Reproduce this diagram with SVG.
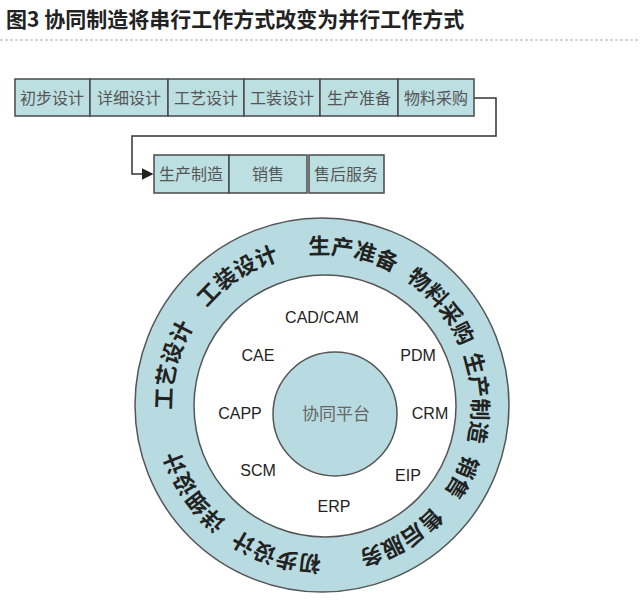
<svg xmlns="http://www.w3.org/2000/svg" width="640" height="601" viewBox="0 0 640 601">
<style>
.b{fill:#bcdfe2;stroke:#4a4a4a;stroke-width:1.5}
.bt{font-family:"Noto Sans CJK SC",sans-serif;font-size:16px;fill:#555;text-anchor:middle}
.r{font-family:"Noto Sans CJK SC",sans-serif;font-size:22px;fill:#222;font-weight:bold}
.i{font-family:"Liberation Sans",Arial,sans-serif;font-size:16px;fill:#222;text-anchor:middle}
</style>
<defs>
<marker id="a" markerWidth="8" markerHeight="8" refX="7" refY="4" orient="auto"><path d="M0,0L8,4L0,8z" fill="#222"/></marker>
<path id="ring" d="M173.85,428.47 A150,150 0 1 1 470.15,381.53 A150,150 0 1 1 173.85,428.47"/>
</defs>
<rect width="640" height="601" fill="#fff"/>
<text x="6" y="27" font-family="'Noto Sans CJK SC',sans-serif" font-size="21" font-weight="bold" fill="#222">图3  协同制造将串行工作方式改变为并行工作方式</text>
<line x1="0" y1="40" x2="640" y2="40" stroke="#aaa" stroke-dasharray="3,2"/>
<g id="connectors" fill="none" stroke="#333" stroke-width="1.5">
<path d="M474,98H496V136H132V174H152" marker-end="url(#a)"/>
</g>
<g id="n1"><rect class="b" x="15" y="79" width="75" height="37"/><text class="bt" x="52" y="104">初步设计</text></g>
<g id="n2"><rect class="b" x="90" y="79" width="78" height="37"/><text class="bt" x="129" y="104">详细设计</text></g>
<g id="n3"><rect class="b" x="168" y="79" width="76" height="37"/><text class="bt" x="206" y="104">工艺设计</text></g>
<g id="n4"><rect class="b" x="244" y="79" width="76" height="37"/><text class="bt" x="282" y="104">工装设计</text></g>
<g id="n5"><rect class="b" x="320" y="79" width="78" height="37"/><text class="bt" x="359" y="104">生产准备</text></g>
<g id="n6"><rect class="b" x="398" y="79" width="76" height="37"/><text class="bt" x="436" y="104">物料采购</text></g>
<g id="n7"><rect class="b" x="154" y="155" width="75" height="38"/><text class="bt" x="191" y="180">生产制造</text></g>
<g id="n8"><rect class="b" x="229" y="155" width="78" height="38"/><text class="bt" x="268" y="180">销售</text></g>
<g id="n9"><rect class="b" x="309" y="155" width="75" height="38"/><text class="bt" x="346" y="180">售后服务</text></g>
<g id="platform">
<circle cx="322" cy="405" r="187" fill="#b7dbe0" stroke="#555" stroke-width="1.5"/>
<circle cx="325" cy="406" r="131" fill="#fff" stroke="#555" stroke-width="1.5"/>
<circle cx="335" cy="414" r="62" fill="#b7dbe0" stroke="#555" stroke-width="1.5"/>
<text x="336" y="420" font-family="'Noto Sans CJK SC',sans-serif" font-size="17" fill="#666" text-anchor="middle">协同平台</text>
</g>
<g id="ring-labels" class="r" text-anchor="middle">
<text class="r"><textPath href="#ring" startOffset="777.5">初步设计</textPath></text>
<text class="r"><textPath href="#ring" startOffset="879.6">详细设计</textPath></text>
<text class="r"><textPath href="#ring" startOffset="62.8">工艺设计</textPath></text>
<text class="r"><textPath href="#ring" startOffset="172.8">工装设计</textPath></text>
<text class="r"><textPath href="#ring" startOffset="290.6">生产准备</textPath></text>
<text class="r"><textPath href="#ring" startOffset="392.7">物料采购</textPath></text>
<text class="r"><textPath href="#ring" startOffset="489.6">生产制造</textPath></text>
<text class="r"><textPath href="#ring" startOffset="568.1">销售</textPath></text>
<text class="r"><textPath href="#ring" startOffset="651.9">售后服务</textPath></text>
</g>
<g id="systems">
<text class="i" x="322" y="323">CAD/CAM</text>
<text class="i" x="258" y="361">CAE</text>
<text class="i" x="418" y="361">PDM</text>
<text class="i" x="240" y="419">CAPP</text>
<text class="i" x="430" y="419">CRM</text>
<text class="i" x="258" y="476">SCM</text>
<text class="i" x="408" y="481">EIP</text>
<text class="i" x="334" y="512">ERP</text>
</g>
</svg>
